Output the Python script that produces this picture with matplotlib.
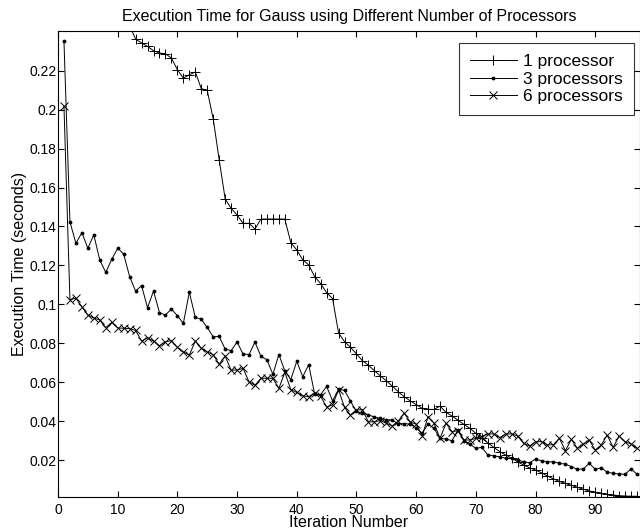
import matplotlib.pyplot as plt
from matplotlib.ticker import FuncFormatter

plt.rcParams['font.family'] = ['Liberation Sans', 'DejaVu Sans']

iterations = list(range(1, 98))

# 1 processor (first points are above the visible range)
one_proc = [0.330, 0.300, 0.285, 0.275, 0.268, 0.262, 0.257, 0.253, 0.250, 0.247,
            0.245, 0.243, 0.2363, 0.2342, 0.2325, 0.2303, 0.2291, 0.2287, 0.2265, 0.2205,
            0.2162, 0.2179, 0.2193, 0.2108, 0.2099, 0.1953, 0.1743, 0.1542, 0.1493, 0.1459,
            0.1416, 0.1416, 0.1387, 0.1438, 0.1438, 0.1438, 0.1438, 0.1438, 0.1317, 0.1279,
            0.1229, 0.1202, 0.1142, 0.1106, 0.1060, 0.1029, 0.0853, 0.0808, 0.0779, 0.0745,
            0.0710, 0.0687, 0.0659, 0.0632, 0.0607, 0.0580, 0.0551, 0.0525, 0.0504, 0.0485,
            0.0466, 0.0460, 0.0460, 0.0477, 0.0445, 0.0426, 0.0405, 0.0383, 0.0363, 0.0337,
            0.0311, 0.0289, 0.0265, 0.0243, 0.0226, 0.0209, 0.0191, 0.0174, 0.0160, 0.0149,
            0.0134, 0.0118, 0.0103, 0.0090, 0.0080, 0.0070, 0.0060, 0.0050, 0.0041, 0.0034,
            0.0029, 0.0024, 0.0020, 0.0017, 0.0015, 0.0014, 0.0014]

three_proc = [0.2351, 0.1424, 0.1313, 0.1368, 0.1288, 0.1357, 0.1227, 0.1164, 0.1231, 0.1288,
              0.1258, 0.1142, 0.1068, 0.1096, 0.0982, 0.1068, 0.0957, 0.0945, 0.0976, 0.0941,
              0.0902, 0.1062, 0.0933, 0.0923, 0.0881, 0.0833, 0.0835, 0.0770, 0.0762, 0.0806,
              0.0745, 0.0742, 0.0806, 0.0732, 0.0715, 0.0640, 0.0742, 0.0658, 0.0613, 0.0707,
              0.0628, 0.0690, 0.0538, 0.0536, 0.0578, 0.0504, 0.0563, 0.0558, 0.0502, 0.0450,
              0.0440, 0.0433, 0.0420, 0.0414, 0.0407, 0.0405, 0.0386, 0.0387, 0.0385, 0.0365,
              0.0337, 0.0385, 0.0363, 0.0311, 0.0308, 0.0299, 0.0354, 0.0299, 0.0282, 0.0260,
              0.0265, 0.0226, 0.0221, 0.0217, 0.0209, 0.0209, 0.0200, 0.0191, 0.0186, 0.0205,
              0.0196, 0.0191, 0.0191, 0.0183, 0.0179, 0.0166, 0.0152, 0.0154, 0.0183, 0.0152,
              0.0160, 0.0137, 0.0132, 0.0128, 0.0127, 0.0154, 0.0127]

six_proc = [0.2017, 0.1024, 0.1031, 0.0987, 0.0945, 0.0930, 0.0919, 0.0880, 0.0907, 0.0878,
            0.0877, 0.0875, 0.0866, 0.0811, 0.0828, 0.0811, 0.0787, 0.0808, 0.0813, 0.0779,
            0.0756, 0.0739, 0.0811, 0.0774, 0.0755, 0.0741, 0.0692, 0.0734, 0.0662, 0.0662,
            0.0671, 0.0602, 0.0584, 0.0620, 0.0620, 0.0620, 0.0568, 0.0650, 0.0562, 0.0547,
            0.0530, 0.0525, 0.0545, 0.0528, 0.0472, 0.0483, 0.0561, 0.0470, 0.0431, 0.0458,
            0.0458, 0.0396, 0.0396, 0.0403, 0.0389, 0.0375, 0.0400, 0.0441, 0.0395, 0.0385,
            0.0325, 0.0422, 0.0389, 0.0311, 0.0389, 0.0346, 0.0351, 0.0303, 0.0303, 0.0311,
            0.0320, 0.0334, 0.0334, 0.0315, 0.0334, 0.0334, 0.0323, 0.0286, 0.0272, 0.0294,
            0.0294, 0.0277, 0.0279, 0.0311, 0.0248, 0.0306, 0.0260, 0.0282, 0.0303, 0.0251,
            0.0277, 0.0328, 0.0265, 0.0323, 0.0294, 0.0282, 0.0260]

x_ticks = [0, 10, 20, 30, 40, 50, 60, 70, 80, 90]
y_ticks = [0.02, 0.04, 0.06, 0.08, 0.1, 0.12, 0.14, 0.16, 0.18, 0.2, 0.22]

fig = plt.figure(figsize=(6.4, 5.29), dpi=100)
ax = fig.add_axes([58/640, 32/529, 1 - 58/640, (497-31)/529])

ax.plot(iterations, one_proc, color='black', lw=0.7, marker='+', ms=7, mew=0.7, label='1 processor')
ax.plot(iterations, three_proc, color='black', lw=0.7, marker='.', ms=3.5, label='3 processors')
ax.plot(iterations, six_proc, color='black', lw=0.7, marker='x', ms=5.5, mew=0.7, label='6 processors')

ax.set_xlim(0, 97.5)
ax.set_ylim(0.001, 0.2404)
ax.set_xticks(x_ticks)
ax.set_yticks(y_ticks)
ax.yaxis.set_major_formatter(FuncFormatter(lambda v, p: '%g' % round(v, 3)))
ax.tick_params(direction='in', top=True, right=True, labelsize=10, length=4, width=0.8)
ax.tick_params(axis='x', pad=4)
ax.tick_params(axis='y', pad=1)
for s in ax.spines.values():
    s.set_linewidth(0.8)

ax.set_title('Execution Time for Gauss using Different Number of Processors', fontsize=11.5, pad=7)
ax.set_xlabel('Iteration Number', fontsize=11.5, labelpad=-1)
ax.set_ylabel('Execution Time (seconds)', fontsize=11.5, labelpad=2)

leg = ax.legend(loc='upper right', bbox_to_anchor=(0.9897, 0.9742), fontsize=12.5, frameon=True,
                fancybox=False, edgecolor='black', numpoints=1, handlelength=2.7, borderpad=0.62,
                labelspacing=0.15, handletextpad=0.4, borderaxespad=0)
leg.get_frame().set_linewidth(0.8)

fig.savefig('out.png', dpi=100)
